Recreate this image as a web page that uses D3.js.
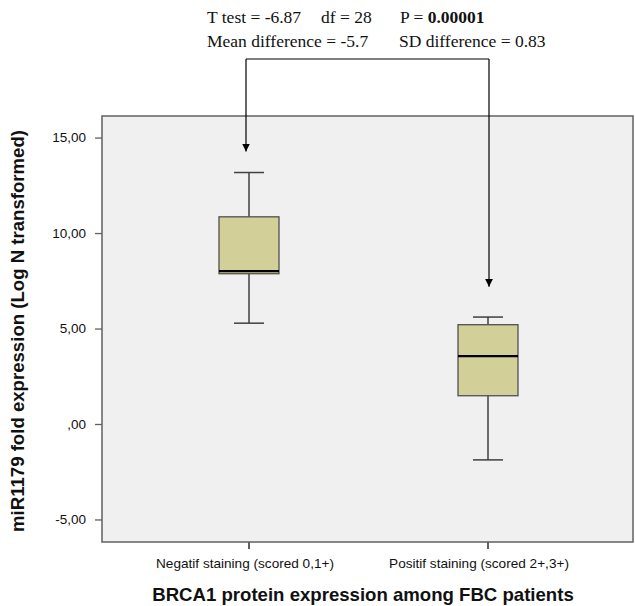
<!DOCTYPE html>
<html>
<head>
<meta charset="utf-8">
<script src="https://cdn.jsdelivr.net/npm/d3@7"></script>
<style>
  html, body { margin: 0; padding: 0; background: #ffffff; }
  svg { display: block; }
</style>
</head>
<body>
<script>
// Group labels and five-number summaries (min, Q1, median, Q3, max)
const groups = ["Negatif staining (scored 0,1+)", "Positif staining (scored 2+,3+)"];
const mins    = [5.28, -1.88];
const q1s     = [7.87, 1.48];
const medians = [8.01, 3.55];
const q3s     = [10.85, 5.20];
const maxs    = [13.17, 5.60];
const yTicks  = [-5, 0, 5, 10, 15];
const yTickLabels = ["-5,00", ",00", "5,00", "10,00", "15,00"];

const W = 635, H = 606;
const plot = { left: 102, right: 633, top: 116, bottom: 542 };

const svg = d3.select("body").append("svg")
  .attr("width", W).attr("height", H);

const y = d3.scaleLinear().domain([-6.18, 16.13]).range([plot.bottom, plot.top]);
const x = d3.scaleBand().domain(groups)
  .range([plot.left + 27.5, plot.right - 25.5]).paddingInner(0.0).paddingOuter(0.0);

// plot background
svg.append("rect")
  .attr("x", plot.left).attr("y", plot.top)
  .attr("width", plot.right - plot.left).attr("height", plot.bottom - plot.top)
  .attr("fill", "#f0f0f0").attr("stroke", "#606060").attr("stroke-width", 1.5);

// y axis
const yAxis = d3.axisLeft(y).tickValues(yTicks)
  .tickFormat((d, i) => yTickLabels[i]).tickSize(7).tickPadding(9);
const gy = svg.append("g").attr("transform", `translate(${plot.left},0)`).call(yAxis);
gy.select(".domain").remove();
gy.selectAll(".tick line").attr("stroke", "#606060").attr("stroke-width", 1.3);
gy.selectAll(".tick text").attr("font-family", "'Liberation Sans', Arial, sans-serif")
  .attr("font-size", 13.5).attr("fill", "#111");

// x axis
const xAxis = d3.axisBottom(x).tickSize(7).tickPadding(9);
const gx = svg.append("g").attr("transform", `translate(0,${plot.bottom})`).call(xAxis);
gx.select(".domain").remove();
gx.selectAll(".tick line").attr("stroke", "#606060").attr("stroke-width", 2);
gx.selectAll(".tick text").attr("font-family", "'Liberation Sans', Arial, sans-serif")
  .attr("font-size", 13.6).attr("fill", "#111")
  .attr("dx", (d, i) => i === 0 ? -4 : -9);

// boxes
const boxW = 60, capW = 30;
groups.forEach((g, i) => {
  const cx = x(g) + x.bandwidth() / 2;
  const bg = svg.append("g");
  bg.append("line").attr("x1", cx).attr("x2", cx)
    .attr("y1", y(maxs[i])).attr("y2", y(q3s[i]))
    .attr("stroke", "#404040").attr("stroke-width", 1.5);
  bg.append("line").attr("x1", cx).attr("x2", cx)
    .attr("y1", y(q1s[i])).attr("y2", y(mins[i]))
    .attr("stroke", "#404040").attr("stroke-width", 1.5);
  [maxs[i], mins[i]].forEach(v => {
    bg.append("line").attr("x1", cx - capW / 2).attr("x2", cx + capW / 2)
      .attr("y1", y(v)).attr("y2", y(v))
      .attr("stroke", "#404040").attr("stroke-width", 1.5);
  });
  bg.append("rect").attr("x", cx - boxW / 2).attr("y", y(q3s[i]))
    .attr("width", boxW).attr("height", y(q1s[i]) - y(q3s[i]))
    .attr("fill", "#d3cf98").attr("stroke", "#505050").attr("stroke-width", 1.3);
  bg.append("line").attr("x1", cx - boxW / 2).attr("x2", cx + boxW / 2)
    .attr("y1", y(medians[i])).attr("y2", y(medians[i]))
    .attr("stroke", "#000").attr("stroke-width", 2.2);
});

// axis titles
svg.append("text")
  .attr("x", 363).attr("y", 601)
  .attr("text-anchor", "middle")
  .attr("font-family", "'Liberation Sans', Arial, sans-serif")
  .attr("font-weight", "bold").attr("font-size", 18.6).attr("fill", "#111")
  .text("BRCA1 protein expression among FBC patients");

svg.append("text")
  .attr("transform", "translate(24,331) rotate(-90)")
  .attr("text-anchor", "middle")
  .attr("font-family", "'Liberation Sans', Arial, sans-serif")
  .attr("font-weight", "bold").attr("font-size", 18.6).attr("fill", "#111")
  .text("miR1179 fold expression (Log N transformed)");

// t-test annotation
const serif = "'Liberation Serif', 'Times New Roman', serif";
const line1 = svg.append("text").attr("y", 23)
  .attr("font-family", serif).attr("font-size", 17.5).attr("fill", "#111");
line1.append("tspan").attr("x", 207).text("T test = -6.87");
line1.append("tspan").attr("x", 321).text("df = 28");
line1.append("tspan").attr("x", 400).text("P = ");
line1.append("tspan").attr("font-weight", "bold").text("0.00001");

const line2 = svg.append("text").attr("y", 47)
  .attr("font-family", serif).attr("font-size", 17.5).attr("fill", "#111");
line2.append("tspan").attr("x", 207).text("Mean difference = -5.7");
line2.append("tspan").attr("x", 399).text("SD difference = 0.83");

// bracket connecting the two groups, with arrows down to each box
svg.append("defs").append("marker")
  .attr("id", "arrowhead")
  .attr("viewBox", "0 0 10 10").attr("refX", 10).attr("refY", 5)
  .attr("markerWidth", 8).attr("markerHeight", 8)
  .attr("markerUnits", "userSpaceOnUse")
  .attr("orient", "auto")
  .append("path").attr("d", "M0,0 L10,5 L0,10 Z").attr("fill", "#000");

const cx0 = x(groups[0]) + x.bandwidth() / 2 - 3;
const cx1 = x(groups[1]) + x.bandwidth() / 2 + 1;
const bracketY = 59;
svg.append("path")
  .attr("d", `M${cx0},${bracketY} L${cx1},${bracketY}`)
  .attr("fill", "none").attr("stroke", "#000").attr("stroke-width", 1.2);
svg.append("line")
  .attr("x1", cx0).attr("x2", cx0).attr("y1", bracketY).attr("y2", y(maxs[0]) - 21)
  .attr("stroke", "#000").attr("stroke-width", 1.2).attr("marker-end", "url(#arrowhead)");
svg.append("line")
  .attr("x1", cx1).attr("x2", cx1).attr("y1", bracketY).attr("y2", y(q3s[1]) - 38)
  .attr("stroke", "#000").attr("stroke-width", 1.2).attr("marker-end", "url(#arrowhead)");
</script>
</body>
</html>
